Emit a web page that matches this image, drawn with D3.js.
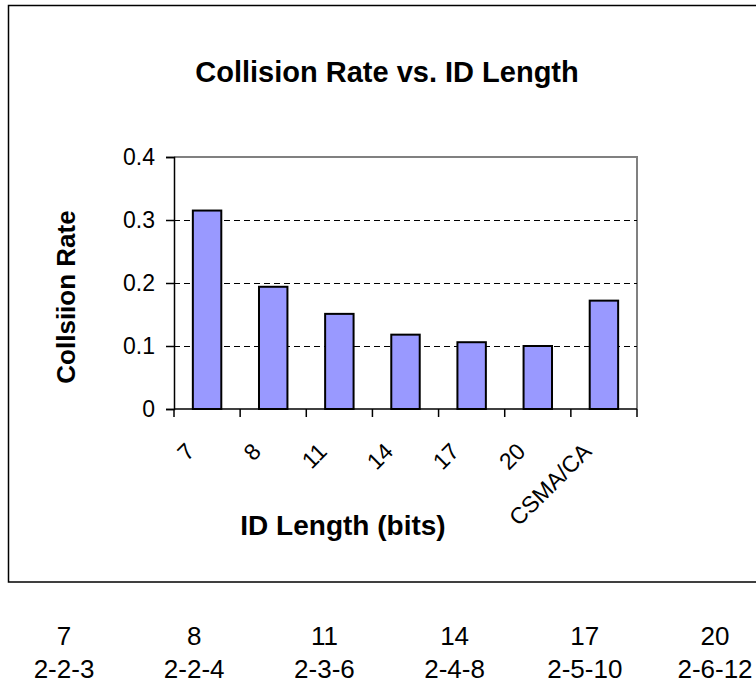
<!DOCTYPE html>
<html>
<head>
<meta charset="utf-8">
<script src="https://cdn.jsdelivr.net/npm/d3@7"></script>
<style>
  html, body { margin: 0; padding: 0; background: #fff; }
  svg { display: block; font-family: "Liberation Sans", Arial, Helvetica, sans-serif; }
</style>
</head>
<body>
<svg id="chart" width="756" height="683"></svg>
<script>
// ID length categories and measured collision rate for each
const categories = ["7", "8", "11", "14", "17", "20", "CSMA/CA"];
const collisionRate = [0.315, 0.194, 0.151, 0.118, 0.106, 0.100, 0.172];
const yTicks = [0, 0.1, 0.2, 0.3, 0.4];
const gridTicks = [0.1, 0.2, 0.3];

// ID length -> field split shown under the chart
const idLengths = ["7", "8", "11", "14", "17", "20"];
const idSplits = ["2-2-3", "2-2-4", "2-3-6", "2-4-8", "2-5-10", "2-6-12"];

const svg = d3.select("#chart");

const plot = { left: 174, right: 637, top: 157, bottom: 409 };

const x = d3.scaleBand()
  .domain(categories)
  .range([plot.left, plot.right])
  .paddingInner(0.57)
  .paddingOuter(0.285);

const y = d3.scaleLinear()
  .domain([0, 0.4])
  .range([plot.bottom, plot.top]);

// outer chart frame (runs off the right edge)
svg.append("rect")
  .attr("x", 8.5).attr("y", 5.5)
  .attr("width", 800).attr("height", 576.5)
  .attr("fill", "none")
  .attr("stroke", "#000")
  .attr("stroke-width", 1.5);

// title
svg.append("text")
  .attr("x", 387).attr("y", 82)
  .attr("text-anchor", "middle")
  .attr("font-size", 29).attr("font-weight", "bold")
  .text("Collision Rate vs. ID Length");

// plot area border (top and right)
svg.append("path")
  .attr("d", `M${plot.left},${plot.top}H${plot.right}V${plot.bottom}`)
  .attr("fill", "none")
  .attr("stroke", "#808080")
  .attr("stroke-width", 2);

// dashed gridlines
svg.append("g")
  .selectAll("line")
  .data(gridTicks)
  .join("line")
  .attr("x1", plot.left).attr("x2", plot.right)
  .attr("y1", d => Math.round(y(d)) + 0.5)
  .attr("y2", d => Math.round(y(d)) + 0.5)
  .attr("stroke", "#000")
  .attr("stroke-width", 1)
  .attr("stroke-dasharray", "6,4");

// bars
svg.append("g")
  .selectAll("rect")
  .data(categories.map((c, i) => ({ c, v: collisionRate[i] })))
  .join("rect")
  .attr("x", d => x(d.c))
  .attr("y", d => y(d.v))
  .attr("width", x.bandwidth())
  .attr("height", d => y(0) - y(d.v))
  .attr("fill", "#9999ff")
  .attr("stroke", "#000")
  .attr("stroke-width", 2);

// y axis
const yAxis = svg.append("g")
  .attr("transform", `translate(${plot.left},0)`)
  .call(d3.axisLeft(y)
    .tickValues(yTicks)
    .tickSize(8)
    .tickPadding(11)
    .tickFormat(d => d === 0 ? "0" : d3.format(".1f")(d)));
yAxis.select(".domain").attr("stroke", "#000").attr("stroke-width", 1.5);
yAxis.selectAll(".tick line").attr("stroke", "#000").attr("stroke-width", 1.5);
yAxis.selectAll(".tick text")
  .attr("font-size", 23)
  .attr("font-family", "Liberation Sans, Arial, sans-serif")
  .attr("fill", "#000");

// x axis: ticks sit between categories
const step = x.step();
const xTickPos = d3.range(categories.length + 1).map(i => plot.left + i * step);
svg.append("line")
  .attr("x1", plot.left).attr("x2", plot.right)
  .attr("y1", plot.bottom).attr("y2", plot.bottom)
  .attr("stroke", "#000").attr("stroke-width", 1.5);
svg.append("g")
  .selectAll("line")
  .data(xTickPos)
  .join("line")
  .attr("x1", d => d).attr("x2", d => d)
  .attr("y1", plot.bottom).attr("y2", plot.bottom + 8)
  .attr("stroke", "#000").attr("stroke-width", 1.5);

// rotated category labels
svg.append("g")
  .selectAll("text")
  .data(categories)
  .join("text")
  .attr("transform", d => `translate(${x(d) + x.bandwidth() / 2 - 11},${plot.bottom + 44}) rotate(-45)`)
  .attr("text-anchor", "end")
  .attr("font-size", 23)
  .text(d => d);

// axis titles
svg.append("text")
  .attr("x", 343).attr("y", 535)
  .attr("text-anchor", "middle")
  .attr("font-size", 28).attr("font-weight", "bold")
  .text("ID Length (bits)");

svg.append("text")
  .attr("transform", "translate(75,297) rotate(-90)")
  .attr("text-anchor", "middle")
  .attr("font-size", 26).attr("font-weight", "bold")
  .text("Collsiion Rate");

// ID length breakdown below the chart
const tx = d3.scalePoint().domain(idLengths).range([64, 715]);
const table = svg.append("g").attr("font-size", 26).attr("text-anchor", "middle");
table.selectAll("text.len")
  .data(idLengths)
  .join("text")
  .attr("class", "len")
  .attr("x", d => tx(d)).attr("y", 645)
  .text(d => d);
table.selectAll("text.split")
  .data(idLengths.map((d, i) => ({ d, s: idSplits[i] })))
  .join("text")
  .attr("class", "split")
  .attr("x", d => tx(d.d)).attr("y", 678)
  .text(d => d.s);
</script>
</body>
</html>
